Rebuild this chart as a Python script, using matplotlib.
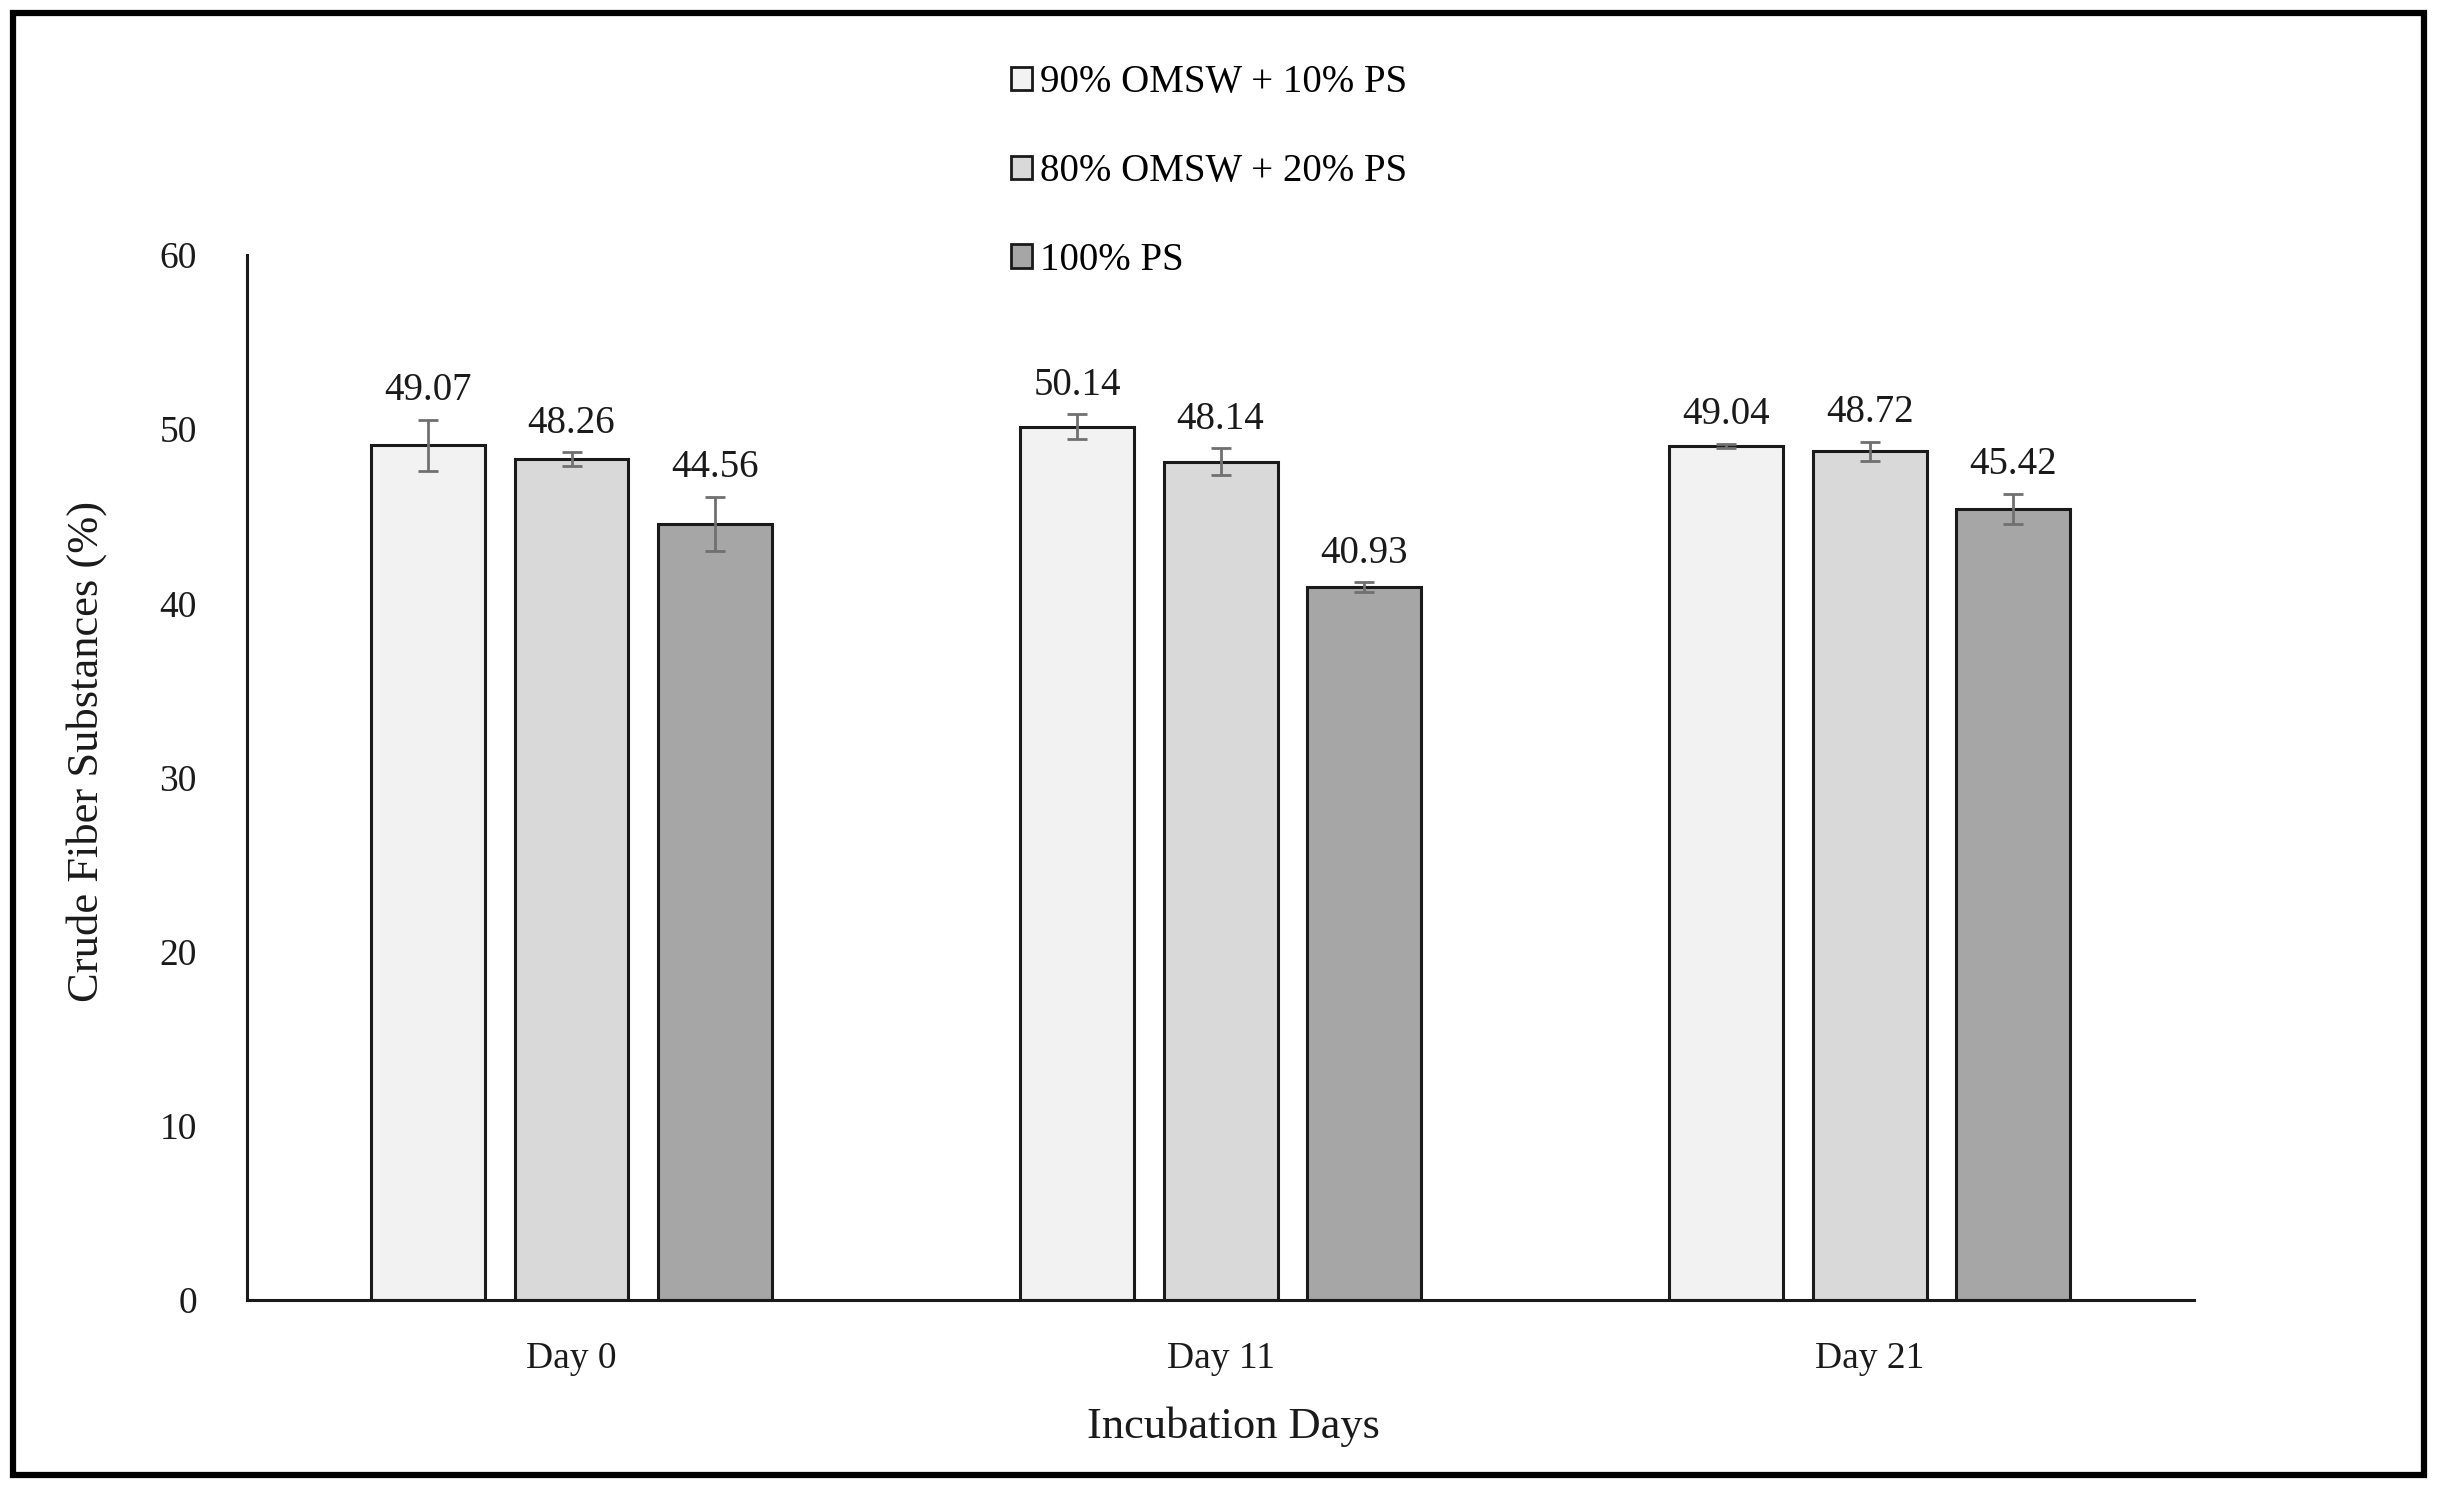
import numpy as np
import matplotlib.pyplot as plt
from matplotlib.patches import Rectangle, Patch

plt.rcParams['font.family'] = ['Liberation Serif', 'DejaVu Serif']

days = ['Day 0', 'Day 11', 'Day 21']
series = ['90% OMSW + 10% PS', '80% OMSW + 20% PS', '100% PS']
values = [
    [49.07, 50.14, 49.04],
    [48.26, 48.14, 48.72],
    [44.56, 40.93, 45.42],
]
errors = [
    [1.45, 0.7, 0.1],
    [0.4, 0.75, 0.55],
    [1.55, 0.27, 0.85],
]
colors = ['#f2f2f2', '#d9d9d9', '#a6a6a6']

fig = plt.figure(figsize=(24.38, 14.96), dpi=100)
ax = fig.add_axes([0.1013, 0.131, 0.7987, 0.6986])

x = np.arange(len(days))
width = 0.1756
step = 0.2213
for i in range(3):
    pos = x + (i - 1) * step
    ax.bar(pos, values[i], width, color=colors[i], edgecolor='#1a1a1a',
           linewidth=2.2, zorder=2)
    ax.errorbar(pos, values[i], yerr=errors[i], fmt='none', ecolor='#707070',
                elinewidth=2.0, capsize=7, capthick=2.0, zorder=3)
    for p, v, e in zip(pos, values[i], errors[i]):
        ax.annotate('%.2f' % v, (p, v + e), xytext=(0, 21),
                    textcoords='offset points', ha='center', va='center',
                    fontsize=28, color='#1a1a1a')

ax.set_xlim(-0.5, 2.5)
ax.set_ylim(0, 60)
ax.set_yticks(range(0, 61, 10))
ax.set_xticks(x)
ax.set_xticklabels(days)
ax.tick_params(axis='both', length=0, labelsize=27, colors='#1a1a1a')
ax.tick_params(axis='y', pad=36)
ax.tick_params(axis='x', pad=30)
for s in ['top', 'right']:
    ax.spines[s].set_visible(False)
for s in ['left', 'bottom']:
    ax.spines[s].set_linewidth(2.2)
    ax.spines[s].set_color('#1a1a1a')

fig.text(0.0355, 0.498, 'Crude Fiber Substances (%)', rotation=90,
         ha='center', va='center', fontsize=32, color='#1a1a1a')
fig.text(0.506, 0.046, 'Incubation Days', ha='center', va='center',
         fontsize=32, color='#1a1a1a')

handles = [Patch(facecolor=c, edgecolor='#1a1a1a', linewidth=2) for c in colors]
fig.legend(handles, series, loc='upper left', bbox_to_anchor=(0.4066, 0.970),
           frameon=False, fontsize=28, handlelength=0.55, handleheight=0.55,
           handletextpad=0.2, labelspacing=1.33, borderpad=0)

fig.patches.append(Rectangle((0.0053, 0.014), 0.989, 0.977,
                             transform=fig.transFigure, fill=False,
                             edgecolor='black', linewidth=4.5))

fig.savefig('out.png', dpi=100)
